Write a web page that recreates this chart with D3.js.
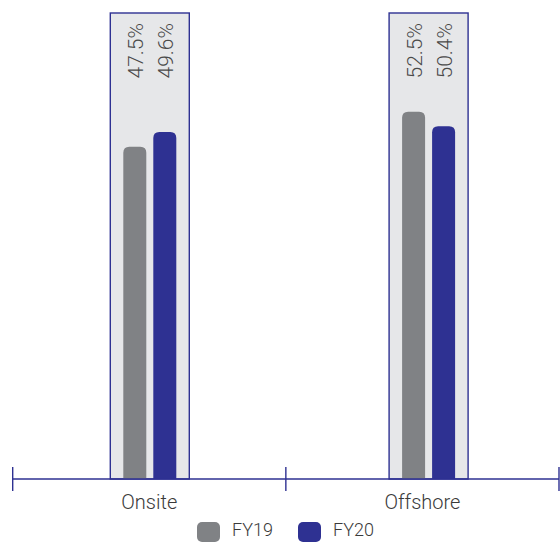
<!DOCTYPE html>
<html>
<head>
<meta charset="utf-8">
<script src="https://cdn.jsdelivr.net/npm/d3@7"></script>
<style>
  html, body { margin: 0; padding: 0; background: #ffffff; }
  svg { display: block; }
  text { font-family: Roboto, "DejaVu Sans", sans-serif; }
</style>
</head>
<body>
<svg id="chart" width="560" height="542"></svg>
<script>
// Share of revenue by delivery location
const categories = ["Onsite", "Offshore"];
const seriesNames = ["FY19", "FY20"];
const fy19 = [47.5, 52.5];
const fy20 = [49.6, 50.4];
const yMax = 66.6;

const colors = { FY19: "#808285", FY20: "#2e3192" };
const axisColor = "#2e3192";
const panelFill = "#e6e7e9";

const svg = d3.select("#chart");

// category axis with ticks at band edges
const x = d3.scaleBand().domain(categories).range([12.7, 559]).padding(0);
// highlighted panel per category
const panelX = d3.scalePoint().domain(categories).range([149.8, 428.6]);
const panelW = 79;
const inner = d3.scaleBand().domain(seriesNames).range([0, panelW])
  .paddingInner(7 / 30).paddingOuter(13 / 30);
const y = d3.scaleLinear().domain([0, yMax]).range([479, 13]);

const rows = categories.map((c, i) => ({
  cat: c,
  values: [
    { name: "FY19", v: fy19[i] },
    { name: "FY20", v: fy20[i] }
  ]
}));

// panels
svg.append("g").selectAll("rect").data(categories).join("rect")
  .attr("x", d => panelX(d) - panelW / 2)
  .attr("y", y(yMax))
  .attr("width", panelW)
  .attr("height", y(0) - y(yMax))
  .attr("fill", panelFill)
  .attr("stroke", axisColor)
  .attr("stroke-width", 1.4);

// bar with rounded top corners
function barPath(x0, w, top, bottom, r) {
  r = Math.min(r, w / 2, bottom - top);
  return `M${x0},${bottom}V${top + r}Q${x0},${top} ${x0 + r},${top}` +
         `H${x0 + w - r}Q${x0 + w},${top} ${x0 + w},${top + r}V${bottom}Z`;
}

const groups = svg.append("g").selectAll("g").data(rows).join("g")
  .attr("transform", d => `translate(${panelX(d.cat) - panelW / 2},0)`);

groups.selectAll("path").data(d => d.values).join("path")
  .attr("d", d => barPath(inner(d.name), inner.bandwidth(), y(d.v), y(0), 6))
  .attr("fill", d => colors[d.name]);

// rotated value labels
groups.selectAll("text").data(d => d.values).join("text")
  .attr("transform", d => `translate(${inner(d.name) + inner.bandwidth() / 2 + 8},${y(yMax) + 10}) rotate(-90)`)
  .attr("text-anchor", "end")
  .attr("font-size", 21)
  .attr("font-weight", 300)
  .attr("fill", "#4a4a4a")
  .text(d => d.v.toFixed(1) + "%");

// axis
const axisY = y(0);
const axis = svg.append("g");
axis.append("line")
  .attr("x1", x.range()[0]).attr("x2", x.range()[1])
  .attr("y1", axisY).attr("y2", axisY)
  .attr("stroke", axisColor).attr("stroke-width", 1.6);
const edges = categories.map(c => x(c)).concat([x.range()[1]]);
axis.selectAll("line.tick").data(edges).join("line")
  .attr("class", "tick")
  .attr("x1", d => d).attr("x2", d => d)
  .attr("y1", axisY - 12).attr("y2", axisY + 12)
  .attr("stroke", axisColor).attr("stroke-width", 1.4);
axis.selectAll("text").data(categories).join("text")
  .attr("x", d => x(d) + x.bandwidth() / 2)
  .attr("y", 509)
  .attr("text-anchor", "middle")
  .attr("font-size", 20)
  .attr("font-weight", 300)
  .attr("fill", "#3a3a3a")
  .text(d => d);

// legend
const itemStep = 101;
const legendX0 = 286 - 89;
const legend = svg.append("g").selectAll("g").data(seriesNames).join("g")
  .attr("transform", (d, i) => `translate(${legendX0 + i * itemStep},522)`);
legend.append("rect")
  .attr("width", 23).attr("height", 20).attr("rx", 5)
  .attr("fill", d => colors[d]);
legend.append("text")
  .attr("x", 35).attr("y", 14)
  .attr("font-size", 18)
  .attr("font-weight", 300)
  .attr("fill", "#3a3a3a")
  .text(d => d);
</script>
</body>
</html>
